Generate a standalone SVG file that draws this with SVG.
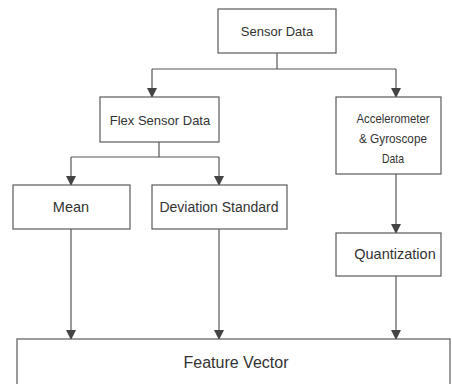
<svg xmlns="http://www.w3.org/2000/svg" width="452" height="384" viewBox="0 0 452 384">
<style>
.box{fill:#fff;stroke:#5a5a5a;stroke-width:1.2}
.t{font-family:"Liberation Sans",Arial,sans-serif;fill:#333;text-anchor:middle}
.c{fill:none;stroke:#555;stroke-width:1.2}
</style>
<defs>
<marker id="ah" markerWidth="10" markerHeight="10" refX="9" refY="5" orient="auto" markerUnits="userSpaceOnUse">
<path d="M0,0 L10,5 L0,10 Z" fill="#444"/>
</marker>
</defs>
<rect width="452" height="384" fill="#fff"/>
<g id="connectors">
<path class="c" d="M277,53 V69"/>
<path class="c" d="M152,69 H396"/>
<path class="c" d="M152,69 V97" marker-end="url(#ah)"/>
<path class="c" d="M396,69 V97" marker-end="url(#ah)"/>
<path class="c" d="M159,142 V157"/>
<path class="c" d="M71,157 H219"/>
<path class="c" d="M71,157 V185" marker-end="url(#ah)"/>
<path class="c" d="M219,157 V185" marker-end="url(#ah)"/>
<path class="c" d="M396,174 V233" marker-end="url(#ah)"/>
<path class="c" d="M71,229 V339" marker-end="url(#ah)"/>
<path class="c" d="M219,229 V339" marker-end="url(#ah)"/>
<path class="c" d="M396,276 V339" marker-end="url(#ah)"/>
</g>
<g id="sensor-data">
<rect class="box" x="218" y="9" width="118" height="44"/>
<text class="t" x="277" y="36" font-size="13">Sensor Data</text>
</g>
<g id="flex-sensor-data">
<rect class="box" x="100" y="97" width="119" height="45"/>
<text class="t" x="160" y="125" font-size="13">Flex Sensor Data</text>
</g>
<g id="accel-gyro">
<rect class="box" x="336" y="97" width="105" height="77"/>
<text class="t" x="393" y="123" font-size="13" textLength="73" lengthAdjust="spacingAndGlyphs">Accelerometer</text>
<text class="t" x="393" y="143" font-size="13" textLength="68" lengthAdjust="spacingAndGlyphs">&amp; Gyroscope</text>
<text class="t" x="393" y="163" font-size="13" textLength="22" lengthAdjust="spacingAndGlyphs">Data</text>
</g>
<g id="mean">
<rect class="box" x="13" y="185" width="117" height="44"/>
<text class="t" x="71" y="212" font-size="14.5">Mean</text>
</g>
<g id="deviation-standard">
<rect class="box" x="152" y="185" width="135" height="44"/>
<text class="t" x="219" y="212" font-size="14">Deviation Standard</text>
</g>
<g id="quantization">
<rect class="box" x="336" y="233" width="105" height="43"/>
<text class="t" x="395" y="259" font-size="14.5">Quantization</text>
</g>
<g id="feature-vector">
<rect class="box" x="17" y="339" width="433" height="50"/>
<text class="t" x="236" y="368" font-size="16">Feature Vector</text>
</g>
</svg>
